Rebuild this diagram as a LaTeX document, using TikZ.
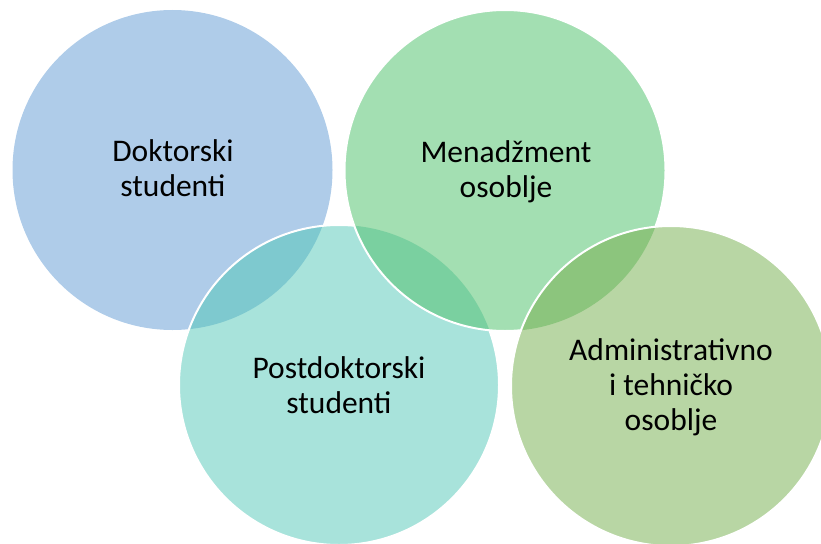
\documentclass[tikz,border=0pt]{standalone}
\usepackage{fontspec}
\setmainfont{Carlito}
\definecolor{cblue}{RGB}{175,204,233}
\definecolor{cteal}{RGB}{168,227,219}
\definecolor{cgreen}{RGB}{163,223,178}
\definecolor{colive}{RGB}{184,214,164}
\definecolor{cbt}{RGB}{126,201,207}
\definecolor{ctg}{RGB}{122,208,160}
\definecolor{cgo}{RGB}{140,197,125}
\begin{document}
\begin{tikzpicture}[x=1pt,y=-1pt,
  lbl/.style={anchor=base,inner sep=0pt,align=center,font=\fontsize{31.5}{35}\selectfont,text=black},
  rim/.style={draw=white,line width=2pt}]
\useasboundingbox (0,0) rectangle (821,543);
\begin{scope}
\clip (0,0) rectangle (821,543);
% blue
\fill[cblue] (172.5,170) circle (160);
% teal
\fill[cteal] (339,385) circle (160);
\begin{scope}
  \clip (172.5,170) circle (160);
  \fill[cbt] (339,385) circle (160);
\end{scope}
\draw[rim] (339,385) circle (160);
% green
\fill[cgreen] (505,170.5) circle (160.5);
\begin{scope}
  \clip (339,385) circle (160);
  \fill[ctg] (505,170.5) circle (160.5);
\end{scope}
\draw[rim] (505,170.5) circle (160.5);
% olive
\fill[colive] (671,386) circle (160);
\begin{scope}
  \clip (505,170.5) circle (160.5);
  \fill[cgo] (671,386) circle (160);
\end{scope}
\draw[rim] (671,386) circle (160);
\end{scope}
\node[lbl] (t1) at (173,196) {Doktorski\\studenti};
\node[lbl] (t2) at (506,197) {Menadžment\\osoblje};
\node[lbl] (t3) at (339,413) {Postdoktorski\\studenti};
\node[lbl] (t4) at (671,430) {Administrativno\\i tehničko\\osoblje};
\end{tikzpicture}
\end{document}
